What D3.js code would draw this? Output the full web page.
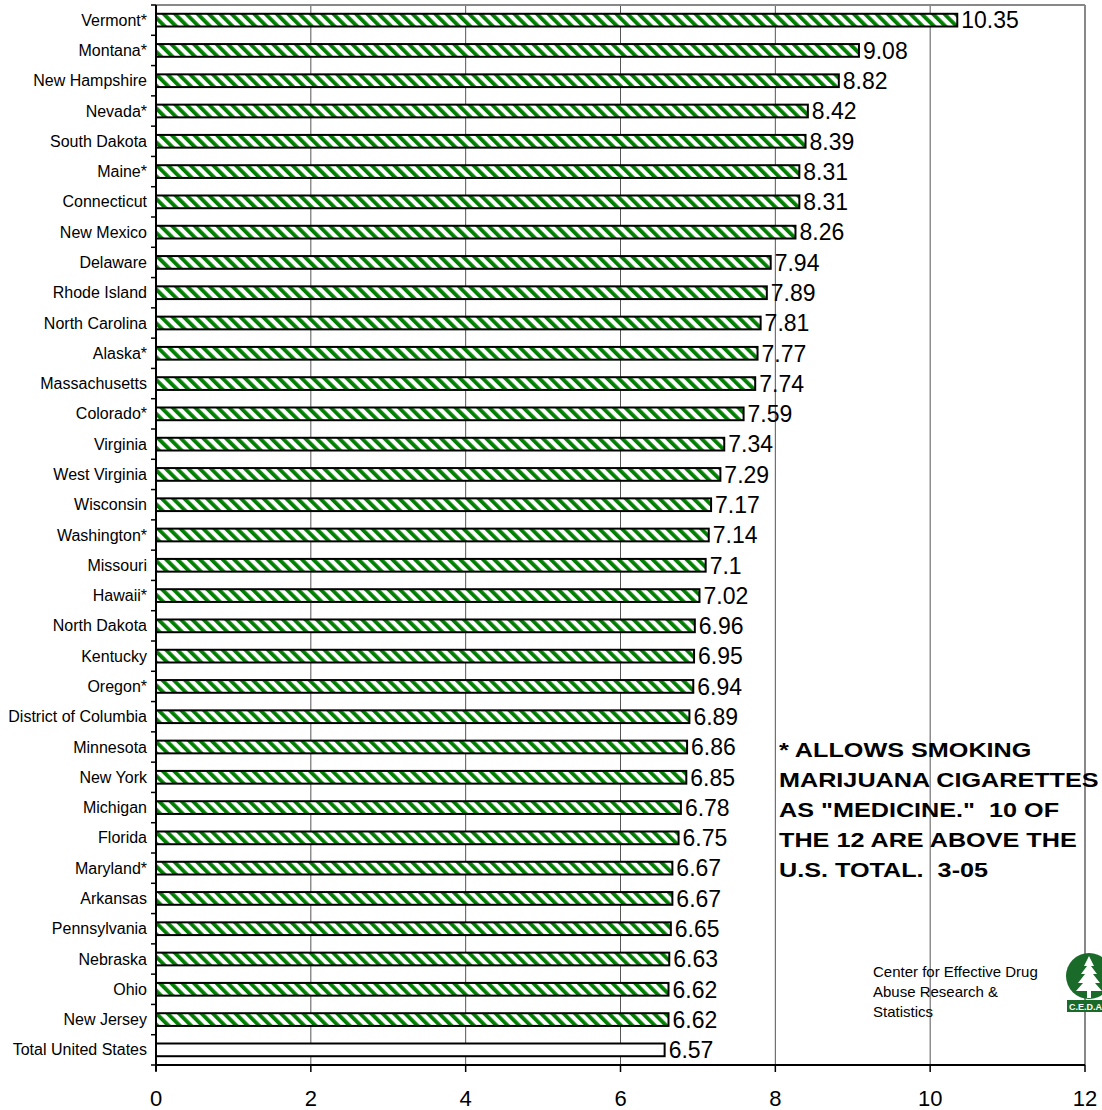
<!DOCTYPE html>
<html>
<head>
<meta charset="utf-8">
<script src="https://cdn.jsdelivr.net/npm/d3@7"></script>
<style>
  body { margin: 0; background: #fff; }
  svg { font-family: "Liberation Sans", Arial, sans-serif; }
</style>
</head>
<body>
<div id="chart"></div>
<script>
var states = ["Vermont*", "Montana*", "New Hampshire", "Nevada*", "South Dakota", "Maine*",
  "Connecticut", "New Mexico", "Delaware", "Rhode Island", "North Carolina", "Alaska*",
  "Massachusetts", "Colorado*", "Virginia", "West Virginia", "Wisconsin", "Washington*",
  "Missouri", "Hawaii*", "North Dakota", "Kentucky", "Oregon*", "District of Columbia",
  "Minnesota", "New York", "Michigan", "Florida", "Maryland*", "Arkansas", "Pennsylvania",
  "Nebraska", "Ohio", "New Jersey", "Total United States"];
var values = [10.35, 9.08, 8.82, 8.42, 8.39, 8.31, 8.31, 8.26, 7.94, 7.89, 7.81, 7.77,
  7.74, 7.59, 7.34, 7.29, 7.17, 7.14, 7.1, 7.02, 6.96, 6.95, 6.94, 6.89, 6.86, 6.85,
  6.78, 6.75, 6.67, 6.67, 6.65, 6.63, 6.62, 6.62, 6.57];
var xTicks = [0, 2, 4, 6, 8, 10, 12];
var noteLines = ["* ALLOWS SMOKING", "MARIJUANA CIGARETTES", "AS \"MEDICINE.\"  10 OF",
  "THE 12 ARE ABOVE THE", "U.S. TOTAL.  3-05"];
var sourceLines = ["Center for Effective Drug", "Abuse Research &", "Statistics"];

var data = states.map(function(s, i) { return {name: s, value: values[i]}; });

var W = 1102, H = 1110;
var pLeft = 156, pRight = 1085, pTop = 5, pBottom = 1065;

var svg = d3.select("#chart").append("svg").attr("width", W).attr("height", H);

var defs = svg.append("defs");
var pat = defs.append("pattern")
  .attr("id", "stripes")
  .attr("patternUnits", "userSpaceOnUse")
  .attr("width", 8).attr("height", 8)
  .attr("patternTransform", "rotate(-45)");
pat.append("rect").attr("width", 8).attr("height", 8).attr("fill", "#fff");
pat.append("rect").attr("x", 0).attr("width", 3.8).attr("height", 8).attr("fill", "#008000");

var x = d3.scaleLinear().domain([0, 12]).range([pLeft, pRight]);
var y = d3.scaleBand().domain(states).range([pTop, pBottom]).paddingInner(0.58).paddingOuter(0.29);
var yTick = d3.scaleBand().domain(states).range([pTop, pBottom]);

// gridlines
svg.append("g").selectAll("line").data(xTicks.slice(1))
  .enter().append("line")
  .attr("x1", function(d) { return x(d); }).attr("x2", function(d) { return x(d); })
  .attr("y1", pTop).attr("y2", pBottom)
  .attr("stroke", function(d) { return d == 12 ? "#888" : "#555"; })
  .attr("stroke-width", function(d) { return d == 12 ? 2 : 1; });

svg.append("line").attr("x1", pLeft).attr("x2", pRight).attr("y1", pTop).attr("y2", pTop)
  .attr("stroke", "#888").attr("stroke-width", 2);

// bars
svg.append("g").selectAll("rect").data(data)
  .enter().append("rect")
  .attr("x", x(0))
  .attr("y", function(d) { return y(d.name); })
  .attr("width", function(d) { return x(d.value) - x(0); })
  .attr("height", y.bandwidth())
  .attr("fill", function(d, i) { return i == data.length - 1 ? "#fff" : "url(#stripes)"; })
  .attr("stroke", "#000").attr("stroke-width", 2);

// value labels
svg.append("g").selectAll("text").data(data)
  .enter().append("text")
  .attr("x", function(d) { return x(d.value) + 4; })
  .attr("y", function(d) { return y(d.name) + y.bandwidth() / 2; })
  .attr("dy", "0.36em")
  .style("font-size", "23px")
  .text(function(d) { return d.value; });

// y axis
var yAxis = svg.append("g").attr("transform", "translate(" + pLeft + ",0)");
yAxis.append("line").attr("x1", 0).attr("x2", 0).attr("y1", pTop).attr("y2", pBottom + 6)
  .attr("stroke", "#000").attr("stroke-width", 2);
yAxis.selectAll(".tk").data(states.concat(["_end"]))
  .enter().append("line")
  .attr("x1", -5).attr("x2", 0)
  .attr("y1", function(d, i) { return pTop + i * yTick.step(); })
  .attr("y2", function(d, i) { return pTop + i * yTick.step(); })
  .attr("stroke", "#000").attr("stroke-width", 1.5);
yAxis.selectAll("text").data(states)
  .enter().append("text")
  .attr("x", -9)
  .attr("y", function(d) { return y(d) + y.bandwidth() / 2; })
  .attr("dy", "0.35em")
  .attr("text-anchor", "end")
  .style("font-size", "16px")
  .text(function(d) { return d; });

// x axis
var xAxis = svg.append("g").attr("transform", "translate(0," + pBottom + ")");
xAxis.append("line").attr("x1", pLeft - 1).attr("x2", pRight).attr("y1", 0).attr("y2", 0)
  .attr("stroke", "#000").attr("stroke-width", 2);
xAxis.selectAll(".tk").data(xTicks)
  .enter().append("line")
  .attr("x1", function(d) { return x(d); }).attr("x2", function(d) { return x(d); })
  .attr("y1", 0).attr("y2", 7)
  .attr("stroke", "#000").attr("stroke-width", 1.5);
xAxis.selectAll("text").data(xTicks)
  .enter().append("text")
  .attr("x", function(d) { return x(d); })
  .attr("y", 41)
  .attr("text-anchor", "middle")
  .style("font-size", "22px")
  .text(function(d) { return d; });

// note
svg.append("g").selectAll("text").data(noteLines)
  .enter().append("text")
  .attr("transform", function(d, i) { return "translate(779," + (757 + i * 30) + ") scale(1.2,1)"; })
  .style("font-size", "21px").style("font-weight", "bold")
  .attr("xml:space", "preserve")
  .text(function(d) { return d; });

// source
svg.append("g").selectAll("text").data(sourceLines)
  .enter().append("text")
  .attr("x", 873)
  .attr("y", function(d, i) { return 977 + i * 20; })
  .style("font-size", "15px")
  .text(function(d) { return d; });

// logo
var logo = svg.append("g").attr("transform", "translate(1089,976)");
logo.append("circle").attr("r", 23).attr("fill", "#1a6b2a");
logo.append("path")
  .attr("d", "M0,-20 L5,-10 L2,-10 L8,-2 L4,-2 L11,7 L6,7 L13,15 L2,15 L2,22 L-2,22 L-2,15 L-13,15 L-6,7 L-11,7 L-4,-2 L-8,-2 L-2,-10 L-5,-10 Z")
  .attr("fill", "#fff");
logo.append("rect").attr("x", -22).attr("y", 24).attr("width", 46).attr("height", 12).attr("fill", "#1a6b2a");
logo.append("text").attr("x", -20).attr("y", 33.5).style("font-size", "9px").style("font-weight", "bold")
  .attr("fill", "#fff").text("C.E.D.A.R.");
</script>
</body>
</html>
